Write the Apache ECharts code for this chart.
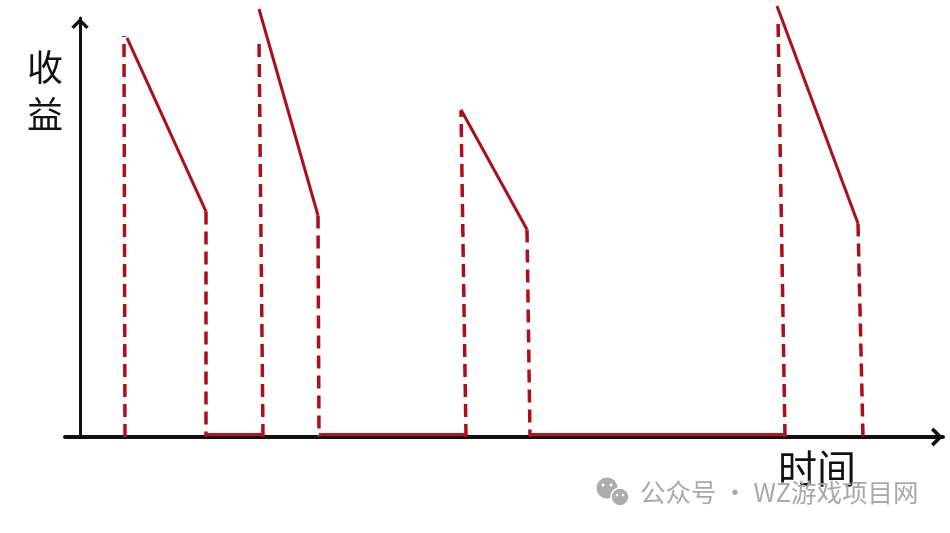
<!DOCTYPE html>
<html>
<head>
<meta charset="utf-8">
<style>
  html, body { margin: 0; padding: 0; background: #ffffff; }
  #main { width: 950px; height: 533px; }
</style>
<script src="https://cdn.jsdelivr.net/npm/echarts@6/dist/echarts.min.js"></script>
</head>
<body>
<div id="main"></div>
<script>
// 时间轴单位 / 收益单位 (示意图，无刻度)
// 每段：虚线上升 -> 实线下降 -> 虚线回落 -> 贴着横轴的空闲段
const riseBottom = [[4.5, 0], [18.3, 0], [38.6, 0], [70.5, 0]];
const riseTop    = [[4.4, 40.2], [17.9, 40.1], [38.1, 32.7], [69.8, 42.0]];
const dropStart  = [[4.7, 40.0], [17.9, 42.9], [38.1, 32.8], [69.7, 43.2]];
const dropEnd    = [[12.6, 22.6], [23.8, 22.2], [44.7, 20.8], [77.8, 21.4]];
const fallBottom = [[12.6, 0], [23.9, 0], [45.0, 0], [78.3, 0]];
const idleSpans  = [[12.6, 18.3], [23.9, 38.6], [45.0, 70.5]];
const idleLevel  = 0.25;

const red = '#ae0e17';
const dash = [13, 7];

let series = [];
for (let i = 0; i < dropStart.length; i++) {
    series.push({
        type: 'line', symbol: 'none', clip: false, silent: true,
        data: [riseBottom[i], riseTop[i]],
        lineStyle: { color: red, width: 3.5, type: dash, cap: 'butt' }
    });
    series.push({
        type: 'line', symbol: 'none', clip: false, silent: true,
        data: [dropStart[i], dropEnd[i]],
        lineStyle: { color: red, width: 3 }
    });
    series.push({
        type: 'line', symbol: 'none', clip: false, silent: true,
        data: [dropEnd[i], fallBottom[i]],
        lineStyle: { color: red, width: 3.5, type: dash, cap: 'butt' }
    });
}
idleSpans.forEach(span => {
    series.push({
        type: 'line', symbol: 'none', clip: false, silent: true, z: 3,
        data: [[span[0], idleLevel], [span[1], idleLevel]],
        lineStyle: { color: '#bd121b', width: 3 }
    });
});

const chevron = 'path://M10,0 L20,10 L17.2,12.6 L10,5.4 L2.8,12.6 L0,10 Z';

let myChart = echarts.init(document.getElementById('main'));
myChart.setOption({
    backgroundColor: '#ffffff',
    animation: false,
    grid: { left: 65, right: 7, top: 18, bottom: 96, containLabel: false },
    xAxis: {
        type: 'value', min: -1.5, max: 86.3,
        axisLine: {
            show: true, onZero: true,
            symbol: ['none', chevron], symbolSize: [22, 12], symbolOffset: [0, -6],
            lineStyle: { color: '#111', width: 4 }
        },
        axisTick: { show: false }, axisLabel: { show: false }, splitLine: { show: false }
    },
    yAxis: {
        type: 'value', min: 0, max: 42,
        axisLine: {
            show: true, onZero: true,
            symbol: ['none', chevron], symbolSize: [20, 11], symbolOffset: [0, -5.5],
            lineStyle: { color: '#111', width: 3 }
        },
        axisTick: { show: false }, axisLabel: { show: false }, splitLine: { show: false }
    },
    graphic: [
        { type: 'text', left: 27, top: 44, style: { text: '收\n益', font: '36px "Noto Sans CJK SC"', lineHeight: 47, fill: '#111' } },
        { type: 'text', left: 778, top: 449, style: { text: '时间', font: '39px "Noto Sans CJK SC"', fill: '#111' } },
        // 公众号水印
        { type: 'circle', shape: { cx: 607, cy: 488, r: 10.5 }, style: { fill: '#adadad' } },
        { type: 'circle', shape: { cx: 620, cy: 497, r: 9 }, style: { fill: '#adadad', stroke: '#fff', lineWidth: 1.5 } },
        { type: 'circle', shape: { cx: 603, cy: 485, r: 1.5 }, style: { fill: '#fff' } },
        { type: 'circle', shape: { cx: 611, cy: 485, r: 1.5 }, style: { fill: '#fff' } },
        { type: 'circle', shape: { cx: 617, cy: 495, r: 1.3 }, style: { fill: '#fff' } },
        { type: 'circle', shape: { cx: 623, cy: 495, r: 1.3 }, style: { fill: '#fff' } },
        { type: 'text', left: 640, top: 480, style: { text: '公众号 · WZ游戏项目网', font: '25.5px "Noto Sans CJK SC"', fill: '#a9a9a9' } }
    ],
    series: series
});
</script>
</body>
</html>
